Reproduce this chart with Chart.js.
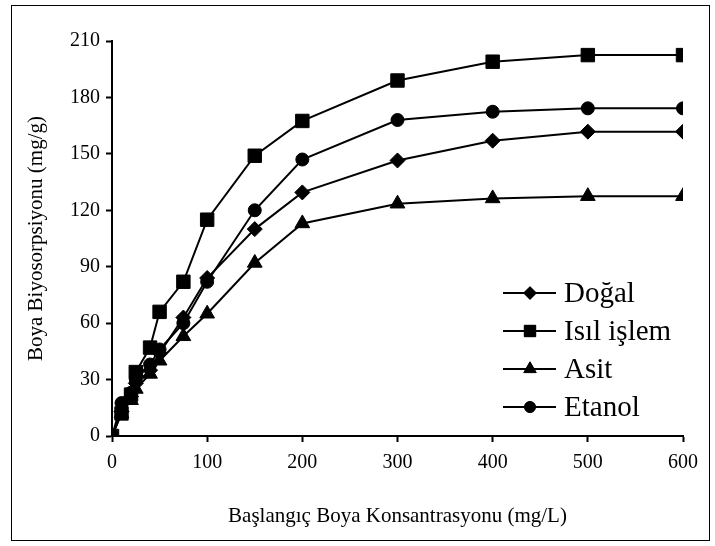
<!DOCTYPE html>
<html><head><meta charset="utf-8">
<script src="https://cdn.jsdelivr.net/npm/chart.js@4/dist/chart.umd.min.js"></script>
<style>html,body{margin:0;padding:0;background:#fff}#wrap{width:715px;height:546px}</style>
</head><body><div id="wrap"><canvas id="c" width="715" height="546"></canvas></div>
<script>
// ---- data ----
const xValues   = [0, 10, 20, 25, 40, 50, 75, 100, 150, 200, 300, 400, 500, 600];
const dogal     = [0, 13, 21, 28, 35, 44, 63, 84, 110, 129.5, 146.5, 157, 161.8, 161.8];
const isilIslem = [0, 12, 22, 34, 47, 66, 82, 115, 149, 167.5, 189, 199, 202.5, 202.5];
const asit      = [0, 12, 19, 25, 33, 40, 53, 65, 92, 113, 123.5, 126.3, 127.5, 127.5];
const etanol    = [0, 17.5, 23, 30, 38, 46, 60, 82, 120, 147, 168, 172.4, 174.2, 174.2];
const seriesNames = ['Doğal', 'Isıl işlem', 'Asit', 'Etanol'];
const xTickValues = [0, 100, 200, 300, 400, 500, 600];
const yTickValues = [0, 30, 60, 90, 120, 150, 180, 210];
const xTitle = 'Başlangıç Boya Konsantrasyonu (mg/L)';
const yTitle = 'Boya Biyosorpsiyonu (mg/g)';

const FONT = 'Liberation Serif';
const toPts = ys => xValues.map((x, i) => ({x: x, y: ys[i]}));
const styles = [
  {pointStyle: 'rectRot', pointRadius: 7.5},
  {pointStyle: 'rect', pointRadius: 9.5},
  {pointStyle: 'triangle', pointRadius: 8.5},
  {pointStyle: 'circle', pointRadius: 6.5}
];
const seriesData = [dogal, isilIslem, asit, etanol];
const datasets = seriesData.map((ys, i) => ({
  label: seriesNames[i],
  data: toPts(ys),
  showLine: true,
  borderColor: '#000',
  borderWidth: 2,
  backgroundColor: '#000',
  pointBackgroundColor: '#000',
  pointBorderColor: '#000',
  pointBorderWidth: 1,
  pointStyle: styles[i].pointStyle,
  pointRadius: styles[i].pointRadius,
  tension: 0
}));

const legendPlugin = {
  id: 'customLegend',
  afterDraw(chart) {
    const ctx = chart.ctx;
    const rows = [293, 331, 369, 407];
    const x0 = 503, x1 = 556, xm = 530, xt = 564;
    ctx.save();
    chart.data.datasets.forEach((ds, i) => {
      const y = rows[i];
      ctx.strokeStyle = '#000';
      ctx.lineWidth = 2;
      ctx.beginPath(); ctx.moveTo(x0, y); ctx.lineTo(x1, y); ctx.stroke();
      ctx.fillStyle = '#000';
      ctx.lineWidth = 1;
      Chart.helpers.drawPoint(ctx, {pointStyle: ds.pointStyle, radius: ds.pointRadius * 0.85, borderWidth: 1, rotation: 0}, xm, y);
      ctx.fill();
      ctx.font = '29px "' + FONT + '"';
      ctx.textBaseline = 'middle';
      ctx.textAlign = 'left';
      ctx.fillText(ds.label, xt, y + 1);
    });
    // outer frame
    ctx.strokeStyle = '#000';
    ctx.lineWidth = 1;
    ctx.strokeRect(11.5, 5.5, 698, 535);
    ctx.restore();
  }
};

new Chart(document.getElementById('c'), {
  type: 'scatter',
  data: {datasets: datasets},
  options: {
    responsive: false,
    animation: false,
    devicePixelRatio: 1,
    layout: {padding: {left: 0, right: 32, top: 41, bottom: 0}},
    plugins: {legend: {display: false}, tooltip: {enabled: false}},
    scales: {
      x: {
        type: 'linear', min: 0, max: 600,
        afterBuildTicks: s => { s.ticks = xTickValues.map(v => ({value: v})); },
        ticks: {color: '#000', font: {family: FONT, size: 20}, padding: 9, maxRotation: 0, autoSkip: false},
        grid: {drawOnChartArea: false, drawTicks: true, tickLength: 6, tickColor: '#000', tickWidth: 2},
        border: {color: '#000', width: 2},
        title: {display: true, text: xTitle, color: '#000', font: {family: FONT, size: 21}, padding: {top: 0, bottom: 17}},
        afterFit: s => { s.height = 110; }
      },
      y: {
        type: 'linear', min: 0, max: 210,
        afterBuildTicks: s => { s.ticks = yTickValues.map(v => ({value: v})); },
        ticks: {color: '#000', font: {family: FONT, size: 20}, padding: 6, autoSkip: false},
        grid: {drawOnChartArea: false, drawTicks: true, tickLength: 6, tickColor: '#000', tickWidth: 2},
        border: {color: '#000', width: 2},
        title: {display: true, text: yTitle, color: '#000', font: {family: FONT, size: 21}, padding: {top: 24, bottom: 0}},
        afterFit: s => { s.width = 112; }
      }
    }
  },
  plugins: [legendPlugin]
});
</script>
</body></html>
